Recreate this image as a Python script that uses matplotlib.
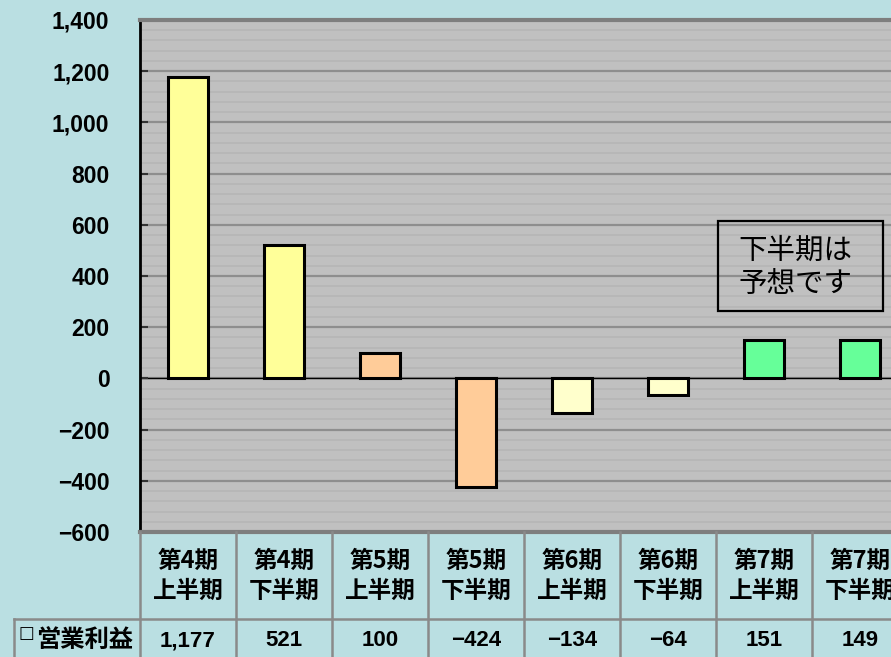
import matplotlib
matplotlib.use("Agg")
import matplotlib.pyplot as plt
import matplotlib.ticker as mticker
import matplotlib.transforms as mtransforms
from matplotlib.lines import Line2D
from matplotlib.patches import Rectangle
import numpy as np

plt.rcParams["font.family"] = ["Liberation Sans", "Noto Sans CJK JP", "DejaVu Sans"]

# ── データ ──────────────────────────────────────────────
periods = ["第4期\n上半期", "第4期\n下半期", "第5期\n上半期", "第5期\n下半期",
           "第6期\n上半期", "第6期\n下半期", "第7期\n上半期", "第7期\n下半期"]
profits = [1177, 521, 100, -424, -134, -64, 151, 149]
bar_colors = ["#FFFF99", "#FFFF99", "#FFCC99", "#FFCC99",
              "#FFFFCC", "#FFFFCC", "#66FF99", "#66FF99"]
row_label = "営業利益"
note = "下半期は\n予想です"
y_ticks = list(range(-600, 1401, 200))

BG = "#BADFE2"
PLOT_BG = "#C0C0C0"
GRID_C = "#8E8E8E"
CELL_C = "#8A8A8A"
CJK = ["Noto Sans CJK JP", "DejaVu Sans"]

W, H = 891, 657
fig = plt.figure(figsize=(W / 100, H / 100), dpi=100, facecolor=BG)

# プロット領域 (右端は画像の外まで)
x0, x1, y_top, y_bot = 140, 908, 20, 532
ax = fig.add_axes([x0 / W, 1 - y_bot / H, (x1 - x0) / W, (y_bot - y_top) / H])
ax.set_facecolor(PLOT_BG)

x = np.arange(len(profits))
ax.set_xlim(-0.5, len(profits) - 0.5)
ax.set_ylim(-600, 1400)

# 細かい横縞 + 目盛り線
for v in np.arange(-600, 1400, 40):
    if v % 200:
        ax.axhline(v, color="#B6B6B6", lw=1.2, zorder=0)
for v in y_ticks:
    ax.axhline(v, color=GRID_C, lw=1.6, zorder=0.5)
ax.axhline(0, color="black", lw=1.0, zorder=1)

ax.bar(x, profits, width=0.41, color=bar_colors, edgecolor="black",
       linewidth=2.2, zorder=3)

ax.set_yticks(y_ticks)
ax.yaxis.set_major_formatter(mticker.FuncFormatter(
    lambda v, _: f"{int(v):,}".replace("-", "\u2212")))
ax.tick_params(axis="y", direction="in", length=6, width=1.5, color="#333333",
               pad=22, labelsize=16.5)
for t in ax.get_yticklabels():
    t.set_fontweight("bold")
ax.set_xticks([])

for side in ("top", "bottom"):
    ax.spines[side].set_color("#7E7E7E")
    ax.spines[side].set_linewidth(3)
ax.spines["left"].set_color("black")
ax.spines["left"].set_linewidth(2)
ax.spines["right"].set_visible(False)

# 注記ボックス
ax.add_patch(Rectangle((5.52, 262), 7.24 - 5.52, 614 - 262, facecolor="none",
                       edgecolor="black", linewidth=1.6, zorder=4))
ax.text(5.73, 434, note, ha="left", va="center", fontsize=20.5,
        family=CJK, linespacing=1.12, zorder=4)

# ── データテーブル ──────────────────────────────────────
trans = mtransforms.blended_transform_factory(ax.transData, fig.transFigure)
fy = lambda py: 1 - py / H
fx = lambda px: px / W
y_row = 619

for b in np.arange(len(profits) + 1) - 0.5:
    fig.add_artist(Line2D([b, b], [fy(y_bot), 0], transform=trans,
                          color=CELL_C, lw=1.8, zorder=1))
fig.add_artist(Line2D([fx(14), 1], [fy(y_row), fy(y_row)],
                      transform=fig.transFigure, color=CELL_C, lw=1.8))
fig.add_artist(Line2D([fx(14), fx(14)], [fy(y_row), 0],
                      transform=fig.transFigure, color=CELL_C, lw=1.8))

for i, (p, v) in enumerate(zip(periods, profits)):
    fig.text(i, fy(576), p, transform=trans, ha="center", va="center",
             fontsize=17, fontweight="bold", family=CJK, linespacing=1.3)
    fig.text(i, fy(641), f"{v:,}".replace("-", "\u2212"), transform=trans,
             ha="center", va="center", fontsize=16, fontweight="bold")

fig.text(fx(19), fy(624), "\u25a1", ha="left", va="top", fontsize=12,
         family=["DejaVu Sans"], fontweight="bold")
fig.text(fx(36), fy(640), row_label, ha="left", va="center", fontsize=17.5,
         fontweight="bold", family=CJK)

fig.savefig("out.png", dpi=100, facecolor=BG)
